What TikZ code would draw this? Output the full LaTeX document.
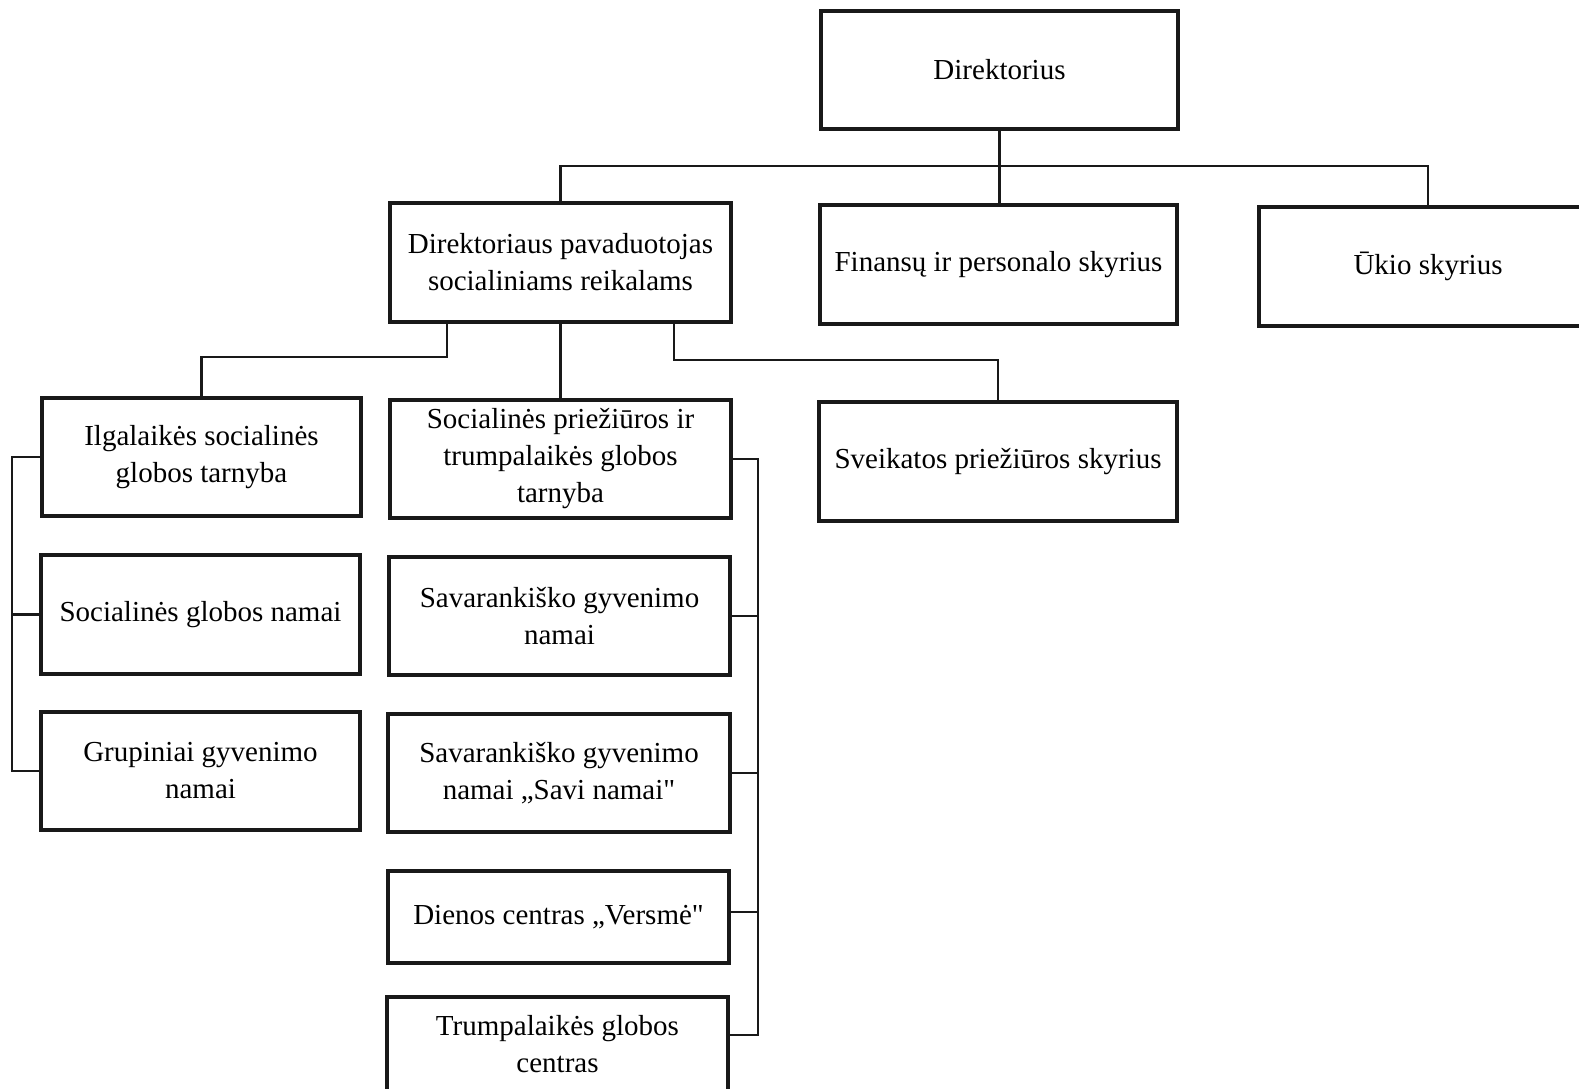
\documentclass[tikz,border=0pt]{standalone}
\usepackage{fontspec}
\setmainfont{Liberation Serif}[Ligatures=TeXOff]
\begin{document}
\begin{tikzpicture}[x=1pt,y=-1pt,
  box/.style={draw=black!90, line width=3.8pt, align=center, inner sep=0pt,
              font=\fontsize{29}{37}\selectfont},
  conn/.style={draw=black!90, line width=2.2pt}]
\useasboundingbox[fill=white] (0,0) rectangle (1579,1088);
% boxes
\node[box, minimum width=357pt, minimum height=118pt] (dir)  at (999.5,70)   {Direktorius};
\node[box, minimum width=341pt, minimum height=119pt] (pav)  at (560.5,262.5) {Direktoriaus pavaduotojas\\socialiniams reikalams};
\node[box, minimum width=357pt, minimum height=119pt] (fin)  at (998.5,264.5) {Finansų ir personalo skyrius};
\node[box, minimum width=338pt, minimum height=119pt] (uki)  at (1428,266.5)  {Ūkio skyrius};
\node[box, minimum width=319pt, minimum height=118pt] (ilg)  at (201.5,457)   {Ilgalaikės socialinės\\globos tarnyba};
\node[box, minimum width=341pt, minimum height=118pt] (spt)  at (560.5,459)   {Socialinės priežiūros ir\\trumpalaikės globos\\tarnyba};
\node[box, minimum width=358pt, minimum height=119pt] (sve)  at (998,461.5)   {Sveikatos priežiūros skyrius};
\node[box, minimum width=319pt, minimum height=119pt] (sgn)  at (200.5,614.5) {Socialinės globos namai};
\node[box, minimum width=341pt, minimum height=118pt] (sgy)  at (559.5,616)   {Savarankiško gyvenimo\\namai};
\node[box, minimum width=319pt, minimum height=118pt] (gru)  at (200.5,771)   {Grupiniai gyvenimo\\namai};
\node[box, minimum width=342pt, minimum height=118pt] (savi) at (559,773)     {Savarankiško gyvenimo\\namai „Savi namai"};
\node[box, minimum width=341pt, minimum height=92pt]  (die)  at (558.5,917)   {Dienos centras „Versmė"};
\node[box, minimum width=341pt, minimum height=94pt]  (tru)  at (557.5,1044)  {Trumpalaikės globos\\centras};
% connector helper coordinates
\coordinate (bus) at (999,166);
\coordinate (jL) at (447,357);
\coordinate (jR) at (674,360);
\coordinate (bl) at (12,0);
\coordinate (br) at (758,0);
\coordinate (trs) at ([yshift=-40pt]tru.north east);
\coordinate (des) at ([yshift=5pt]die.east);
% connectors
\draw[conn] (dir.south) -- (dir.south |- fin.north);
\draw[conn] (pav.north) |- (bus) -| (uki.north);
\draw[conn] (jL |- pav.south) -- (jL) -| (ilg.north);
\draw[conn] (pav.south) -- (spt.north);
\draw[conn] (jR |- pav.south) -- (jR) -| (sve.north);
\draw[conn] (ilg.west) -| (bl |- gru.west) -- (gru.west);
\draw[conn] (sgn.west) -- (bl |- sgn.west);
\draw[conn] (spt.east) -| (br |- trs) -- (trs);
\draw[conn] (sgy.east) -- (br |- sgy.east);
\draw[conn] (savi.east) -- (br |- savi.east);
\draw[conn] (des) -- (br |- des);
\end{tikzpicture}
\end{document}
